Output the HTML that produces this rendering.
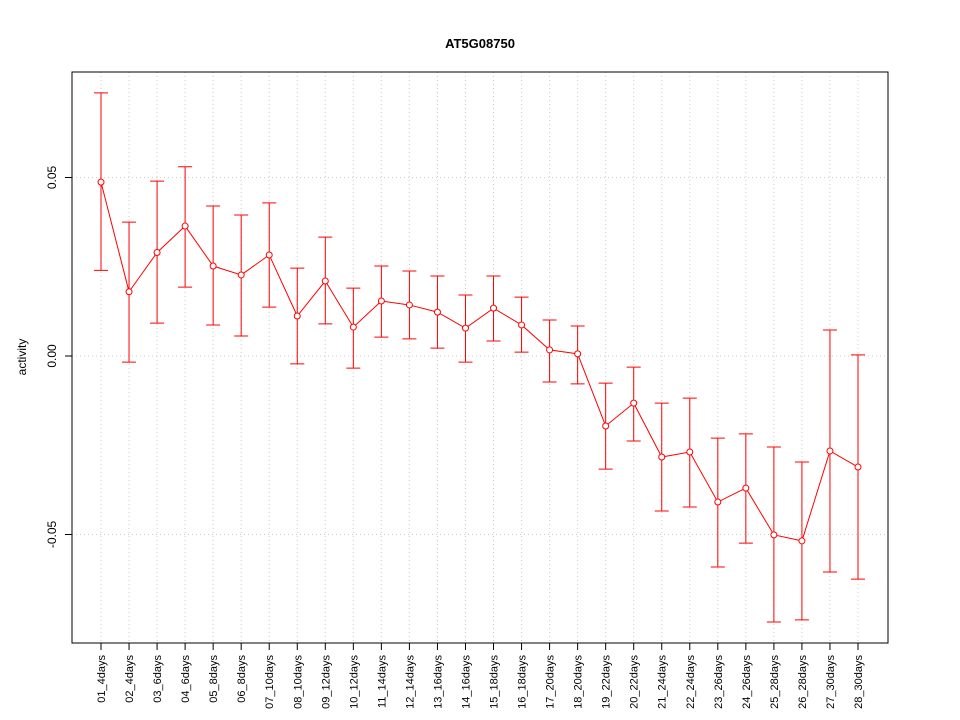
<!DOCTYPE html>
<html><head><meta charset="utf-8"><style>body{margin:0;background:#fff}svg{display:block;font-family:"Liberation Sans",sans-serif}</style></head>
<body>
<svg id="chart" width="960" height="720">
<text x="480" y="48" text-anchor="middle" font-size="13" font-weight="bold">AT5G08750</text>
<text transform="translate(26,357) rotate(-90)" text-anchor="middle" font-size="12">activity</text>
<g id="grid"></g><g id="axes"></g><g id="marks"></g>
<rect x="72" y="72" width="816" height="571" fill="none" stroke="#000"/>
</svg>
<script>
const categories=["01_4days","02_4days","03_6days","04_6days","05_8days","06_8days","07_10days","08_10days","09_12days","10_12days","11_14days","12_14days","13_16days","14_16days","15_18days","16_18days","17_20days","18_20days","19_22days","20_22days","21_24days","22_24days","23_26days","24_26days","25_28days","26_28days","27_30days","28_30days"];
const values=[0.0487,0.018,0.029,0.0364,0.0252,0.0227,0.0283,0.0112,0.021,0.0081,0.0154,0.0143,0.0123,0.0078,0.0134,0.0087,0.0017,0.0006,-0.0196,-0.0132,-0.0283,-0.0269,-0.0409,-0.037,-0.0501,-0.0518,-0.0266,-0.0311];
const upper=[0.0737,0.0375,0.049,0.053,0.042,0.0395,0.0429,0.0246,0.0333,0.019,0.0252,0.0238,0.0224,0.0171,0.0224,0.0165,0.0101,0.0084,-0.0076,-0.0031,-0.0132,-0.0118,-0.023,-0.0218,-0.0255,-0.0297,0.0073,0.0003];
const lower=[0.024,-0.0017,0.0092,0.0193,0.0087,0.0056,0.0137,-0.0022,0.009,-0.0034,0.0053,0.0048,0.0022,-0.0017,0.0042,0.0011,-0.0073,-0.0078,-0.0317,-0.0238,-0.0434,-0.0423,-0.0591,-0.0524,-0.0745,-0.0739,-0.0605,-0.0625];
const yTicks=[-0.05,0,0.05];
const yTickLabels=["-0.05","0.00","0.05"];
const NS="http://www.w3.org/2000/svg";
const xs=i=>101+i*(858-101)/(categories.length-1);
const ys=v=>356-v*3570;
function mk(parent,tag,attrs){const e=document.createElementNS(NS,tag);for(const k in attrs)e.setAttribute(k,attrs[k]);document.getElementById(parent).appendChild(e);return e;}
yTicks.forEach((t,i)=>{
 let g=mk('grid','line',{x1:72,x2:888,y1:ys(t),y2:ys(t),stroke:'#ccc','stroke-dasharray':'1,3'});
 
 
 let tk=mk('axes','line',{x1:65,x2:72,y1:ys(t),y2:ys(t),stroke:'#000'});
 
 
 let tx=mk('axes','text',{transform:`translate(56,${ys(t)}) rotate(-90)`,'text-anchor':'middle','font-size':12});
 tx.textContent=yTickLabels[i];
 
 
});
let pts=[];
categories.forEach((c,i)=>{
 const x=xs(i);
 let g=mk('grid','line',{x1:x,x2:x,y1:72,y2:643,stroke:'#ccc','stroke-dasharray':'1,3'});
 
 
 let tk=mk('axes','line',{x1:x,x2:x,y1:643,y2:650,stroke:'#000'});
 
 
 let tx=mk('axes','text',{transform:`translate(${x+4},655) rotate(-90)`,'text-anchor':'end','font-size':11});
 tx.textContent=c;
 
 
 let eb=mk('marks','path',{d:`M${x},${ys(upper[i])}V${ys(lower[i])}M${x-7},${ys(upper[i])}H${x+7}M${x-7},${ys(lower[i])}H${x+7}`,stroke:'#f00',fill:'none'});
 
 
 pts.push(x+','+ys(values[i]));
});
let pl=mk('marks','polyline',{points:pts.join(' '),stroke:'#f00',fill:'none'});


values.forEach((v,i)=>{
 let c=mk('marks','circle',{cx:xs(i),cy:ys(v),r:3,fill:'#fff',stroke:'#f00'});
 
 
});
</script>
</body></html>
